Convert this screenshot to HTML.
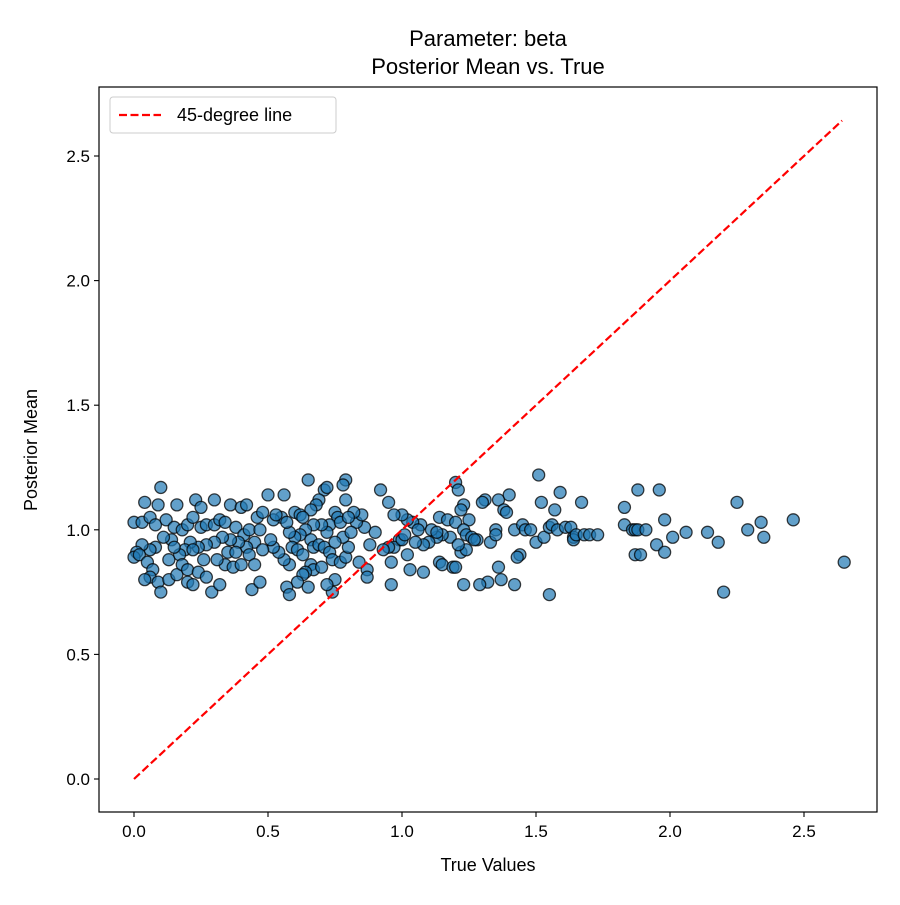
<!DOCTYPE html>
<html><head><meta charset="utf-8"><style>
body{margin:0;background:#fff;}
svg text{font-family:"Liberation Sans","DejaVu Sans",sans-serif;fill:#000;}
</style></head><body>
<svg id="chart" width="900" height="900" xmlns="http://www.w3.org/2000/svg">
<rect width="900" height="900" fill="#fff"/>
<text x="488" y="46" font-size="22" text-anchor="middle">Parameter: beta</text>
<text x="488" y="74" font-size="22" text-anchor="middle">Posterior Mean vs. True</text>
<g id="plot"></g>
<text x="488" y="871" font-size="18" text-anchor="middle">True Values</text>
<text x="37" y="450" font-size="18" text-anchor="middle" transform="rotate(-90 37 450)">Posterior Mean</text>
</svg>
<script>
const xTicks=[0,0.5,1,1.5,2,2.5];
const yTicks=[0,0.5,1,1.5,2,2.5];
const tickLabels=["0.0","0.5","1.0","1.5","2.0","2.5"];
const lineRange=[0,2.642];
const trueVals=[1.31,1.30,1.33,1.35,1.35,1.36,1.38,1.39,1.40,1.36,1.37,1.32,1.29,1.42,1.42,1.44,1.43,1.45,1.46,1.48,1.50,1.51,1.52,1.53,1.55,1.55,1.56,1.57,1.58,1.59,1.61,1.63,1.64,1.64,1.65,1.67,1.68,1.70,1.73,1.83,1.83,1.86,1.87,1.88,1.88,1.87,1.89,1.91,1.95,1.96,1.98,1.98,2.01,2.06,2.14,2.18,2.20,2.25,2.29,2.34,2.35,2.46,2.65,
1.2,1.21,1.23,1.22,1.25,1.14,1.17,1.20,1.23,1.24,1.26,1.28,1.18,1.15,1.13,1.10,1.08,1.05,1.07,1.04,1.02,1.00,0.97,0.95,0.92,0.99,0.97,0.95,0.93,0.96,1.02,1.03,1.08,1.14,1.15,1.19,1.22,1.24,1.23,1.20,0.96,1.00,1.01,1.06,1.11,1.13,1.21,1.27,0.90,0.88,0.87,0.87,0.84,0.86,0.83,0.85,0.82,
0.65,0.71,0.72,0.79,0.78,0.79,0.69,0.68,0.66,0.75,0.76,0.73,0.72,0.70,0.67,0.64,0.62,0.60,0.58,0.55,0.52,0.50,0.56,0.53,0.57,0.60,0.62,0.63,0.59,0.61,0.63,0.66,0.67,0.69,0.71,0.73,0.74,0.77,0.79,0.80,0.78,0.81,0.75,0.74,0.72,0.66,0.67,0.64,0.63,0.61,0.58,0.56,0.54,0.52,0.51,0.57,0.58,0.65,0.70,0.75,0.77,0.80,
0.10,0.04,0.09,0.16,0.23,0.25,0.30,0.36,0.40,0.42,0.46,0.48,0.00,0.03,0.06,0.08,0.12,0.15,0.18,0.20,0.22,0.25,0.27,0.30,0.32,0.34,0.38,0.41,0.43,0.47,0.45,0.42,0.39,0.36,0.33,0.30,0.27,0.24,0.21,0.19,0.17,0.14,0.11,0.08,0.06,0.03,0.01,0.00,0.02,0.05,0.07,0.06,0.04,0.09,0.10,0.13,0.16,0.18,0.20,0.20,0.22,0.24,0.27,0.29,0.32,0.34,0.37,0.40,0.43,0.45,0.44,0.47,0.31,0.35,0.26,0.22,0.13,0.15,0.38,0.48];
const postMeans=[1.12,1.11,0.95,1.0,0.98,1.12,1.08,1.07,1.14,0.85,0.80,0.79,0.78,0.78,1.0,0.90,0.89,1.02,1.00,1.00,0.95,1.22,1.11,0.97,1.01,0.74,1.02,1.08,1.0,1.15,1.01,1.01,0.97,0.96,0.98,1.11,0.98,0.98,0.98,1.09,1.02,1.0,1.0,1.0,1.16,0.90,0.90,1.0,0.94,1.16,1.04,0.91,0.97,0.99,0.99,0.95,0.75,1.11,1.0,1.03,0.97,1.04,0.87,
1.19,1.16,1.10,1.08,1.04,1.05,1.04,1.03,1.0,0.98,0.97,0.96,0.97,0.98,0.97,0.95,0.94,0.95,1.02,1.03,1.04,1.06,1.06,1.11,1.16,0.96,0.93,0.93,0.92,0.87,0.90,0.84,0.83,0.87,0.86,0.85,0.91,0.92,0.78,0.85,0.78,0.96,0.98,1.00,1.00,0.99,0.94,0.96,0.99,0.94,0.84,0.81,0.87,1.01,1.03,1.06,1.07,
1.20,1.16,1.17,1.20,1.18,1.12,1.12,1.10,1.08,1.07,1.05,1.02,0.99,1.02,1.02,1.00,0.98,0.97,0.99,1.05,1.04,1.14,1.14,1.06,1.03,1.07,1.06,1.05,0.93,0.92,0.90,0.96,0.93,0.94,0.93,0.91,0.88,0.87,0.89,0.93,0.97,0.99,0.80,0.75,0.78,0.86,0.84,0.83,0.82,0.79,0.86,0.88,0.91,0.93,0.96,0.77,0.74,0.77,0.85,0.95,1.03,1.05,
1.17,1.11,1.10,1.10,1.12,1.09,1.12,1.10,1.09,1.10,1.05,1.07,1.03,1.03,1.05,1.02,1.04,1.01,1.0,1.02,1.05,1.01,1.02,1.02,1.04,1.03,1.01,0.98,1.00,1.00,0.95,0.93,0.95,0.96,0.97,0.95,0.94,0.93,0.95,0.92,0.90,0.96,0.97,0.93,0.92,0.94,0.91,0.89,0.90,0.87,0.84,0.81,0.80,0.79,0.75,0.80,0.82,0.86,0.84,0.79,0.78,0.83,0.81,0.75,0.78,0.86,0.85,0.86,0.90,0.86,0.76,0.79,0.88,0.91,0.88,0.92,0.88,0.93,0.91,0.92];
const L=99,R=877,T=87,B=812;
const xs=v=>134+v*268, ys=v=>779-v*249.2;
const NS="http://www.w3.org/2000/svg";
const g=document.getElementById('plot');
function mk(t,a){const e=document.createElementNS(NS,t);for(const k in a)e.setAttribute(k,a[k]);g.appendChild(e);return e;}
for(let i=0;i<trueVals.length;i++){
 const c=mk('circle',{cx:xs(trueVals[i]),cy:ys(postMeans[i]),r:6,fill:'rgba(31,119,180,0.7)',stroke:'rgba(0,0,0,0.75)','stroke-width':1.3});
 
 
}
const ln=mk('line',{x1:xs(lineRange[0]),y1:ys(lineRange[0]),x2:xs(lineRange[1]),y2:ys(lineRange[1]),stroke:'#f00','stroke-width':2.2,'stroke-dasharray':'8,3.5'});


const fr=mk('rect',{x:L,y:T,width:R-L,height:B-T,fill:'none',stroke:'#000','stroke-width':1.2});


xTicks.forEach((v,i)=>{const x=xs(v);
 const t=mk('line',{x1:x,y1:B,x2:x,y2:B+5,stroke:'#000','stroke-width':1.1});
 
 
 const tx=mk('text',{x:x,y:B+25,'font-size':17,'text-anchor':'middle'});tx.textContent=tickLabels[i];
 
 
});
yTicks.forEach((v,i)=>{const y=ys(v);
 const t=mk('line',{x1:L-5,y1:y,x2:L,y2:y,stroke:'#000','stroke-width':1.1});
 
 
 const tx=mk('text',{x:L-9,y:y+6,'font-size':17,'text-anchor':'end'});tx.textContent=tickLabels[i];
 
 
});
const lg=mk('rect',{x:110,y:97,width:226,height:36,rx:3,fill:'rgba(255,255,255,0.8)',stroke:'#ccc','stroke-width':1});


const ll=mk('line',{x1:119,y1:115,x2:161,y2:115,stroke:'#f00','stroke-width':2.2,'stroke-dasharray':'8,3.5'});


const lt=mk('text',{x:177,y:121,'font-size':18});lt.textContent='45-degree line';


</script>
</body></html>
